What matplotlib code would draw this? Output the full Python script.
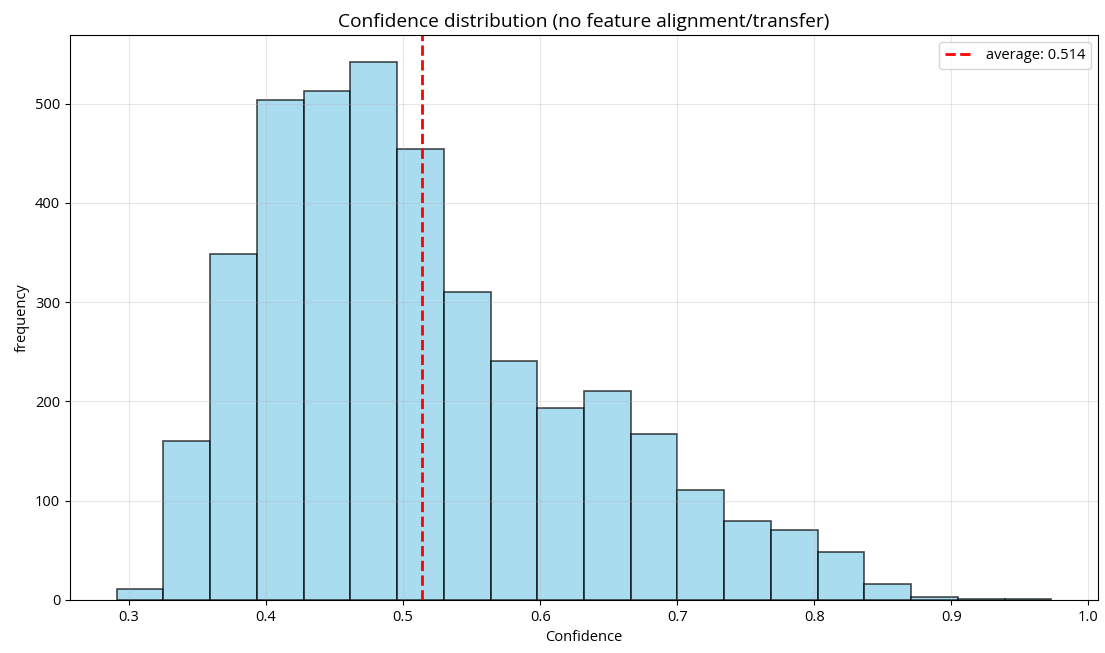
import numpy as np
import matplotlib
matplotlib.use("Agg")
import matplotlib.pyplot as plt

plt.rcParams['font.family'] = ['Open Sans', 'DejaVu Sans']

bin_start = 0.291
bin_end = 0.973
n_bins = 20
counts = [11, 160, 349, 504, 513, 542, 454, 310, 241, 193,
          210, 167, 111, 80, 70, 48, 16, 3, 1, 1]
mean_value = 0.514

edges = np.linspace(bin_start, bin_end, n_bins + 1)

fig, ax = plt.subplots(figsize=(11.05, 6.53), dpi=100)
fig.subplots_adjust(left=0.0633, right=0.9937, top=0.9464, bottom=0.0812)

ax.hist(edges[:-1], bins=edges, weights=counts, color='skyblue',
        edgecolor='black', alpha=0.7, linewidth=1.2)
ax.axvline(mean_value, color='red', linestyle='--', linewidth=2,
           label=f'average: {mean_value:.3f}')
ax.set_title('Confidence distribution (no feature alignment/transfer)', fontsize=13.8)
ax.set_xlabel('Confidence', fontsize=10.5)
ax.set_ylabel('frequency', fontsize=10.5)
ax.grid(True, alpha=0.3)
ax.legend(loc='upper right', fontsize=10.5)
ax.tick_params(labelsize=10.5)

fig.savefig('out.png', dpi=100)
